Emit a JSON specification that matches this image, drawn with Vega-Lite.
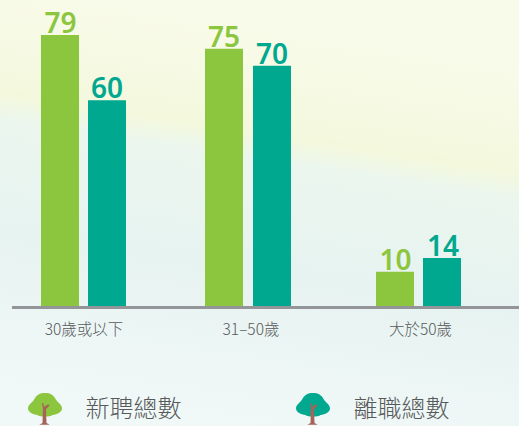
{
"$schema":"https://vega.github.io/schema/vega-lite/v6.json",
"width":519,"height":426,"padding":0,"autosize":{"type":"none"},
"background":"#eef7f5",
"view":{"stroke":null,"fill":{"gradient":"linear","x1":0.556,"y1":0.064,"x2":0.38,"y2":1.004,"stops":[{"offset":0,"color":"#f9fbea"},{"offset":0.27,"color":"#f3f8dd"},{"offset":0.33,"color":"#ebf6ee"},{"offset":0.6,"color":"#e7f3f1"},{"offset":1,"color":"#f1f9f8"}]}},
"datasets":{
"bars":[
{"組":0,"年齡":"30歲或以下","類別":"新聘總數","人數":79},
{"組":1,"年齡":"31–50歲","類別":"新聘總數","人數":75},
{"組":2,"年齡":"大於50歲","類別":"新聘總數","人數":10},
{"組":0,"年齡":"30歲或以下","類別":"離職總數","人數":60},
{"組":1,"年齡":"31–50歲","類別":"離職總數","人數":70},
{"組":2,"年齡":"大於50歲","類別":"離職總數","人數":14}],
"ages":[{"組":0,"年齡":"30歲或以下"},{"組":1,"年齡":"31–50歲"},{"組":2,"年齡":"大於50歲"}],
"legend":[{"序":0,"類別":"新聘總數"},{"序":1,"類別":"離職總數"}]
},
"data":{"name":"bars"},
"encoding":{"y":{"type":"quantitative","scale":{"domain":[-35,89.2],"nice":false,"zero":false},"axis":null}},
"layer":[
{"transform":[{"filter":"datum['類別']=='新聘總數'"}],"mark":{"type":"bar","size":38},
 "encoding":{"x":{"field":"組","type":"quantitative","axis":null,"scale":{"domain":[0,1,2],"range":[60,224,395],"nice":false,"zero":false,"padding":0}},
 "y":{"field":"人數"},"color":{"field":"類別","type":"nominal","legend":null,"scale":{"domain":["新聘總數","離職總數"],"range":["#8cc63f","#00a88f"]}}}},
{"transform":[{"filter":"datum['類別']=='離職總數'"}],"mark":{"type":"bar","size":38},
 "encoding":{"x":{"field":"組","type":"quantitative","axis":null,"scale":{"domain":[0,1,2],"range":[107,272,442],"nice":false,"zero":false,"padding":0}},
 "y":{"field":"人數"},"color":{"field":"類別","type":"nominal","legend":null}}},
{"transform":[{"filter":"datum['類別']=='新聘總數'"}],"mark":{"type":"text","font":"Noto Sans","fontSize":28,"fontWeight":600,"baseline":"alphabetic","dy":-2},
 "encoding":{"x":{"field":"組","type":"quantitative","axis":null,"scale":{"domain":[0,1,2],"range":[60.5,224,395.5],"nice":false,"zero":false}},
 "y":{"field":"人數"},"text":{"field":"人數"},"color":{"field":"類別","type":"nominal","legend":null}}},
{"transform":[{"filter":"datum['類別']=='離職總數'"}],"mark":{"type":"text","font":"Noto Sans","fontSize":28,"fontWeight":600,"baseline":"alphabetic","dy":-2},
 "encoding":{"x":{"field":"組","type":"quantitative","axis":null,"scale":{"domain":[0,1,2],"range":[107,272,443],"nice":false,"zero":false}},
 "y":{"field":"人數"},"text":{"field":"人數"},"color":{"field":"類別","type":"nominal","legend":null}}},
{"mark":{"type":"rule","color":"#939598","strokeWidth":3},
 "encoding":{"y":{"datum":-0.45},"x":{"datum":12,"type":"quantitative","axis":null,"scale":{"domain":[0,519],"range":[0,519],"nice":false,"zero":false}},"x2":{"datum":519}}},
{"data":{"name":"ages"},"mark":{"type":"text","font":"Noto Sans CJK TC","fontSize":15.5,"fontWeight":300,"color":"#58595b"},
 "encoding":{"x":{"field":"組","type":"quantitative","axis":null,"scale":{"domain":[0,1,2],"range":[84,251,420.5],"nice":false,"zero":false}},
 "y":{"datum":-6.9},"text":{"field":"年齡"}}},
{"data":{"name":"legend"},"mark":{"type":"text","font":"Noto Sans CJK TC","fontSize":24,"fontWeight":300,"align":"left","color":"#58595b"},
 "encoding":{"x":{"field":"序","type":"quantitative","axis":null,"scale":{"domain":[0,1],"range":[85.5,353.5],"nice":false,"zero":false}},
 "y":{"datum":-30.4},"text":{"field":"類別"}}},
{"data":{"name":"legend"},"mark":{"type":"point","filled":true,"opacity":1,"size":1156,"shape":"M-1,-0.1C-1,-0.3 -0.75,-0.45 -0.65,-0.6C-0.5,-0.9 -0.3,-1 0,-1C0.3,-1 0.5,-0.9 0.65,-0.6C0.75,-0.45 1,-0.3 1,-0.1C1,0.15 0.7,0.25 0.45,0.3C0.3,0.42 -0.3,0.42 -0.45,0.3C-0.7,0.25 -1,0.15 -1,-0.1Z"},
 "encoding":{"x":{"field":"序","type":"quantitative","axis":null,"scale":{"domain":[0,1],"range":[45,313],"nice":false,"zero":false}},
 "y":{"datum":-30.3},"color":{"field":"類別","type":"nominal","legend":null}}},
{"data":{"name":"legend"},"mark":{"type":"point","filled":true,"opacity":1,"size":625,"color":"#a5645a","shape":"M-0.13,-0.3L-0.2,-0.75L-0.1,-0.72L-0.03,-0.45L0.3,-0.65L0.4,-0.55L0.12,-0.25L0.16,0.85L0.42,1L-0.42,1L-0.16,0.85Z"},
 "encoding":{"x":{"field":"序","type":"quantitative","axis":null,"scale":{"domain":[0,1],"range":[44.5,312.5],"nice":false,"zero":false}},
 "y":{"datum":-31}}}
],
"resolve":{"scale":{"x":"independent"}}
}
